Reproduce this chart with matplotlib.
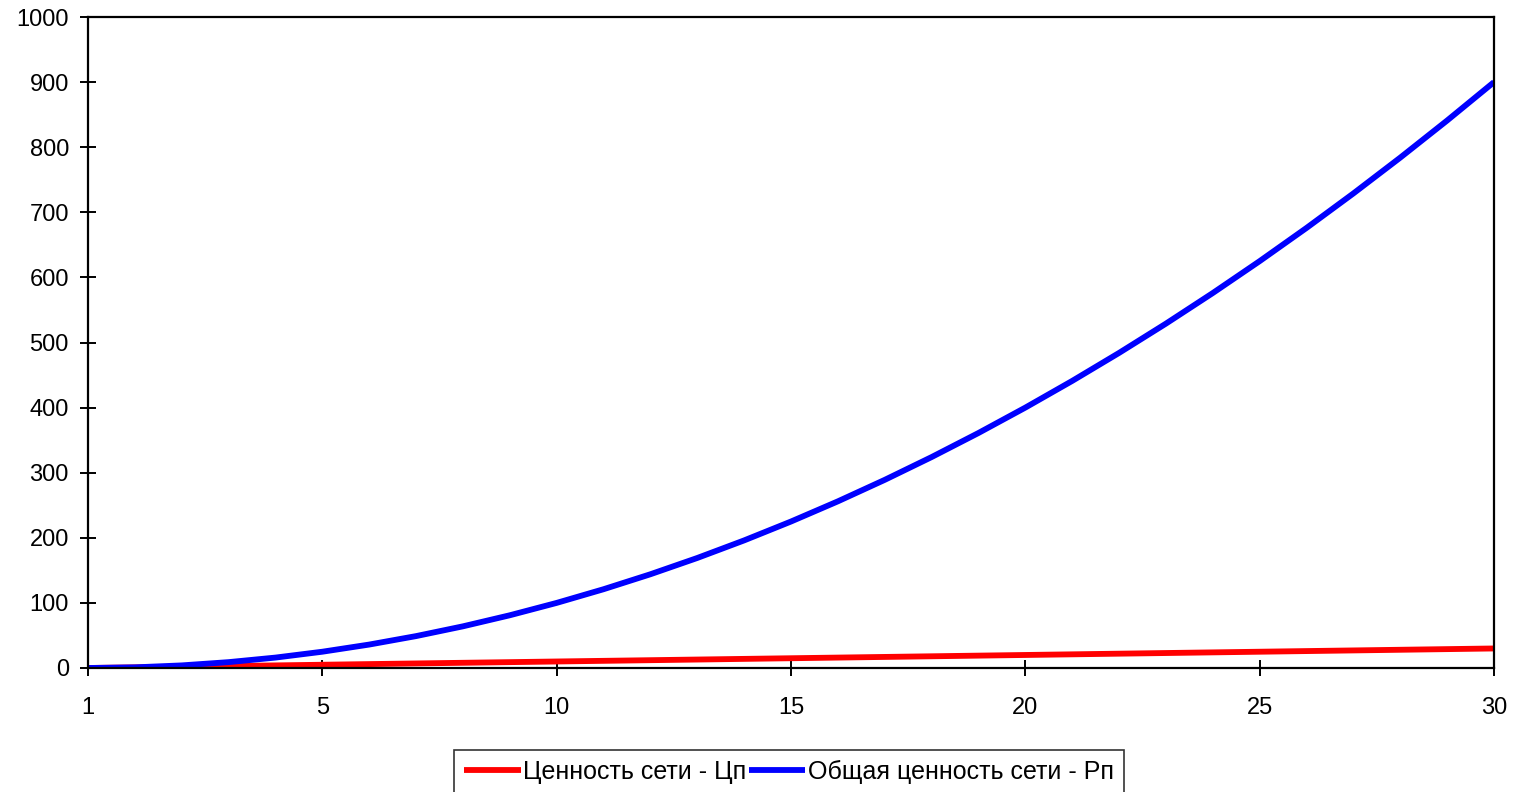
import matplotlib
matplotlib.use("Agg")
import matplotlib.pyplot as plt

plt.rcParams['font.family'] = ['Liberation Sans', 'DejaVu Sans']

# Number of network nodes (category positions) and tick labels
positions = list(range(0, 31))
tick_positions = [0, 5, 10, 15, 20, 25, 30]
tick_labels = ["1", "5", "10", "15", "20", "25", "30"]

# Value of the network per node (Цп) and total network value (Рп)
value_per_node = [0, 1, 2, 3, 4, 5, 6, 7, 8, 9, 10, 11, 12, 13, 14, 15,
                  16, 17, 18, 19, 20, 21, 22, 23, 24, 25, 26, 27, 28, 29, 30]
total_value = [0, 1, 4, 9, 16, 25, 36, 49, 64, 81, 100, 121, 144, 169, 196,
               225, 256, 289, 324, 361, 400, 441, 484, 529, 576, 625, 676,
               729, 784, 841, 900]

series_labels = ["Ценность сети - Цп", "Общая ценность сети - Рп"]
y_ticks = [0, 100, 200, 300, 400, 500, 600, 700, 800, 900, 1000]

W, H = 1514, 792
fig = plt.figure(figsize=(W / 100, H / 100), dpi=100)
fig.patch.set_facecolor("white")
ax = fig.add_axes([88 / W, 1 - 668 / H, 1406 / W, 651 / H])

ax.plot(positions, value_per_node, color="#FF0000", lw=4.2,
        solid_capstyle="butt", label=series_labels[0])
ax.plot(positions, total_value, color="#0000FF", lw=4.2,
        solid_capstyle="butt", label=series_labels[1])

ax.set_xlim(0, 30)
ax.set_ylim(0, 1000)
ax.set_xticks(tick_positions)
ax.set_xticklabels(tick_labels)
ax.set_yticks(y_ticks)
ax.set_yticklabels([str(v) for v in y_ticks])

for s in ax.spines.values():
    s.set_color("black")
    s.set_linewidth(1.6)

ax.tick_params(axis="both", direction="inout", length=11.5, width=1.4,
               colors="black", labelsize=17)
ax.tick_params(axis="y", pad=8)
ax.tick_params(axis="x", pad=15)

leg = fig.legend(loc="upper center", bbox_to_anchor=(789 / W, 1 - 750 / H),
                 ncol=2, frameon=True, fancybox=False, fontsize=18,
                 handlelength=2.25, handletextpad=0.1, columnspacing=0.1,
                 borderpad=0.4, borderaxespad=0)
leg.get_frame().set_edgecolor("black")
leg.get_frame().set_linewidth(1.2)

fig.savefig("out.png", dpi=100, facecolor="white")
